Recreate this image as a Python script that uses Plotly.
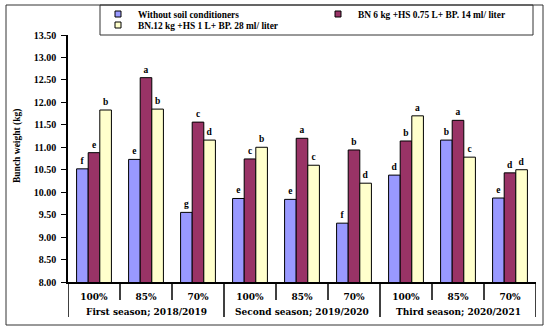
import plotly.graph_objects as go

# ---- data ----
seasons = ["First season; 2018/2019", "Second season; 2019/2020", "Third season; 2020/2021"]
levels = ["100%", "85%", "70%"]
series_names = ["Without soil conditioners",
                "BN 6 kg +HS 0.75 L+ BP. 14 ml/ liter",
                "BN.12 kg +HS 1 L+ BP. 28 ml/ liter"]
without_vals = [10.52, 10.73, 9.55, 9.86, 9.84, 9.31, 10.38, 11.16, 9.87]
bn6_vals = [10.88, 12.55, 11.56, 10.74, 11.20, 10.94, 11.14, 11.60, 10.43]
bn12_vals = [11.83, 11.85, 11.16, 11.00, 10.60, 10.20, 11.70, 10.78, 10.50]
without_letters = ["f", "e", "g", "e", "e", "f", "d", "b", "e"]
bn6_letters = ["e", "a", "c", "c", "a", "b", "b", "a", "d"]
bn12_letters = ["b", "b", "d", "b", "c", "d", "a", "c", "d"]
y_ticks = [8.0, 8.5, 9.0, 9.5, 10.0, 10.5, 11.0, 11.5, 12.0, 12.5, 13.0, 13.5]
y_title = "Bunch weight (kg)"

colors = ["#9999FF", "#993366", "#FFFFCC"]
FONT = "Liberation Serif, Times New Roman, serif"
WIDE = "DejaVu Serif, serif"
legend_slots = ["legend", "legend", "legend2"]

n_groups = len(seasons) * len(levels)
xpos = list(range(n_groups))
tick_text = levels * len(seasons)

fig = go.Figure()
for name, vals, letters, col, lg in zip(series_names,
                                         [without_vals, bn6_vals, bn12_vals],
                                         [without_letters, bn6_letters, bn12_letters],
                                         colors, legend_slots):
    fig.add_trace(go.Bar(
        x=xpos, y=vals, name=name, marker=dict(color=col, line=dict(color="black", width=1)),
        text=letters, textposition="outside", cliponaxis=False, constraintext="none",
        textfont=dict(family=FONT, size=9.5, color="black", weight="bold"),
        showlegend=False, hoverinfo="y"))
    # legend proxy with small square swatch
    fig.add_trace(go.Scatter(
        x=[None], y=[None], mode="markers", name=name, legend=lg,
        marker=dict(symbol="square", size=6, color=col, line=dict(color="black", width=1))))

# plot area in pixels: x 68..536, y 35..282
L, R, T, B = 68, 536, 35, 282
W, H = 550, 333
pw, ph = R - L, B - T
def px_x(p):
    return (p - L) / pw
def px_y(p):
    return (B - p) / ph

shapes = []
# outer frame
shapes.append(dict(type="rect", xref="paper", yref="paper",
                   x0=px_x(6), x1=px_x(543), y0=px_y(325), y1=px_y(5),
                   line=dict(color="#333333", width=1)))
# legend box
shapes.append(dict(type="rect", xref="paper", yref="paper",
                   x0=px_x(100), x1=px_x(533), y0=px_y(35), y1=px_y(5),
                   line=dict(color="#333333", width=1)))
# category separators
for i in range(n_groups + 1):
    xb = i - 0.5
    outer = (i % len(levels) == 0)
    shapes.append(dict(type="line", xref="x", yref="paper", x0=xb, x1=xb,
                       y0=0, y1=px_y(317 if outer else 300),
                       line=dict(color="black", width=1.5)))

annotations = []
for s_i, s in enumerate(seasons):
    annotations.append(dict(x=s_i * len(levels) + (len(levels) - 1) / 2, y=px_y(312),
                            xref="x", yref="paper", text=s, showarrow=False,
                            font=dict(family=WIDE, size=9, color="black", weight="bold"),
                            xanchor="center", yanchor="middle"))
annotations.append(dict(x=px_x(17), y=px_y(146), xref="paper", yref="paper", text=y_title,
                        textangle=-90, showarrow=False,
                        font=dict(family=FONT, size=9.5, color="black", weight="bold"),
                        xanchor="center", yanchor="middle"))

legend_common = dict(orientation="h", xanchor="left", yanchor="middle",
                     entrywidth=175, traceorder="normal",
                     font=dict(family=FONT, size=9.4, color="black", weight="bold"),
                     bgcolor="rgba(0,0,0,0)", itemwidth=30)

fig.update_layout(
    width=W, height=H,
    margin=dict(l=L, r=W - R, t=T, b=H - B, autoexpand=False),
    paper_bgcolor="white", plot_bgcolor="white",
    barmode="group", bargap=0.33, bargroupgap=0,
    shapes=shapes, annotations=annotations,
    legend=dict(x=px_x(98), y=px_y(14), **legend_common),
    legend2=dict(x=px_x(98), y=px_y(25), **legend_common),
    xaxis=dict(range=[-0.5, n_groups - 0.5], tickvals=xpos, ticktext=tick_text,
               showline=True, linecolor="black", linewidth=1.5, showgrid=False,
               zeroline=False, ticks="", ticklabelstandoff=5,
               tickfont=dict(family=WIDE, size=9, color="black", weight="bold")),
    yaxis=dict(range=[8, 13.5], tickvals=y_ticks, ticktext=[f"{v:.2f}" for v in y_ticks],
               showline=True, linecolor="black", linewidth=1.5, showgrid=False,
               zeroline=False, ticks="outside", ticklen=5, tickcolor="black",
               tickwidth=1, ticklabelstandoff=3,
               tickfont=dict(family=FONT, size=10, color="black", weight="bold")),
)

fig.write_html("out.html", config={"displayModeBar": False},
               post_script="document.body.style.margin='0px';document.body.style.padding='0px';")
